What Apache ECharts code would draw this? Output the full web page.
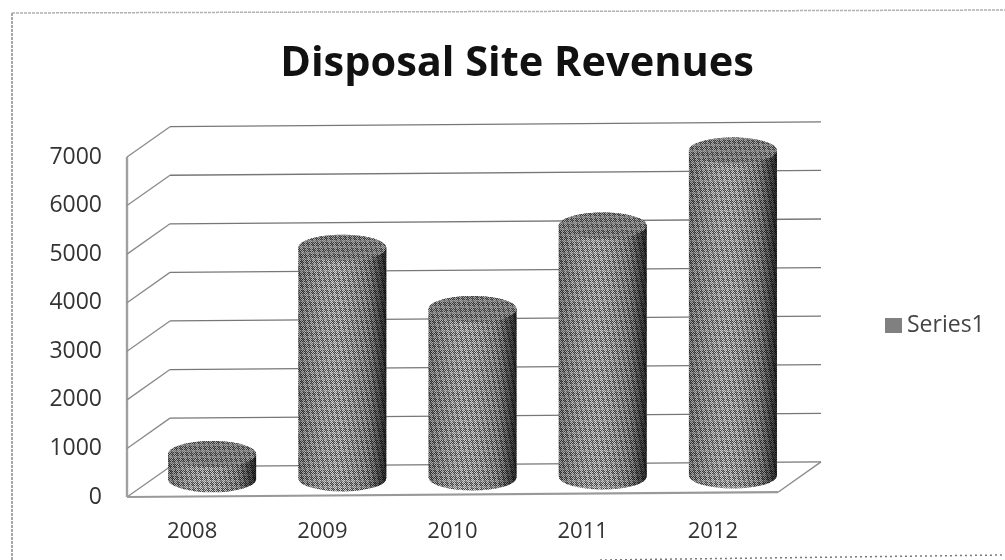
<!DOCTYPE html>
<html><head><meta charset="utf-8">
<style>html,body{margin:0;padding:0;background:#fff}#c{width:1005px;height:560px}</style>
<script src="https://cdn.jsdelivr.net/npm/echarts@6/dist/echarts.min.js"></script>
</head><body><div id="c"></div>
<script>
var categories = ['2008','2009','2010','2011','2012'];
var revenues = [520, 4750, 3470, 5165, 6690];
var gridTicks = [0,1000,2000,3000,4000,5000,6000,7000];
var FONT = '"Open Sans", sans-serif';

// dithered grain used for the cylinder surface
function makeTile(lo, hi){
  var n=24, cv=document.createElement('canvas'); cv.width=cv.height=n;
  var g=cv.getContext('2d'), im=g.createImageData(n,n);
  for(var y=0;y<n;y++)for(var x=0;x<n;x++){
    var chk=(x+y)%2===0, band=(y%6<2)?1:0, blot=((x*7+y*13)%24)<5;
    var v=chk?hi:lo; if(band&&!chk)v=lo+60; if(blot)v=(lo+hi)/2;
    var i=(y*n+x)*4; im.data[i]=im.data[i+1]=im.data[i+2]=v; im.data[i+3]=255;
  }
  g.putImageData(im,0,0); return cv;
}
var grain={image:makeTile(50,205),repeat:'repeat'};
var grainTop={image:makeTile(55,165),repeat:'repeat'};

var TILT=-0.0074, DX=43, DY=-30, MIDX=20, MIDY=-17, RX=44, RY=13;
var LINE='#8a8a8a';
function tilt(pt,x0){return [pt[0],pt[1]+(pt[0]-x0)*TILT];}
function seg(a,b,w,c){return {type:'line',shape:{x1:a[0],y1:a[1],x2:b[0],y2:b[1]},style:{stroke:c||LINE,lineWidth:w||1.4}};}

function renderWalls(params,api){
  var cs=params.coordSys, v=api.value(0), y=api.coord([0,v])[1];
  var L=cs.x, R=cs.x+cs.width, x0=cs.x, kids=[];
  var fl=tilt([L,y],x0), bl=tilt([L+DX,y+DY],x0), br=tilt([R+DX,y+DY],x0);
  kids.push(seg(fl,bl,1.3));
  kids.push(seg(bl,br,1.3,'#777'));
  if(v===0){
    var fr=tilt([R,y],x0);
    kids.push(seg(fl,fr,2.2,'#999'));
    kids.push(seg(fr,br,1.3));
    kids.push(seg([L,cs.y],[L,y],2.4,'#a0a0a0'));
  }
  return {type:'group',children:kids};
}
function renderCyl(params,api){
  var cs=params.coordSys, i=api.value(0);
  var t=api.coord([i,api.value(1)]), b=api.coord([i,0]);
  var cx=t[0]+MIDX, top=tilt([cx,t[1]+MIDY],cs.x)[1], bot=tilt([cx,b[1]+MIDY],cs.x)[1];
  var l=cx-RX, r=cx+RX;
  var d='M'+l+' '+top+'L'+l+' '+bot+'A'+RX+' '+RY+' 0 0 0 '+r+' '+bot+'L'+r+' '+top+'A'+RX+' '+RY+' 0 0 0 '+l+' '+top+'Z';
  var rect={pathData:d,layout:'cover',x:l,y:top-RY,width:2*RX,height:bot-top+2*RY};
  var shade={type:'linear',x:0,y:0,x2:1,y2:0,colorStops:[
    {offset:0,color:'rgba(0,0,0,0.25)'},{offset:0.45,color:'rgba(255,255,255,0.08)'},
    {offset:0.8,color:'rgba(0,0,0,0.18)'},{offset:0.95,color:'rgba(0,0,0,0.6)'},{offset:1,color:'rgba(0,0,0,0.8)'}]};
  return {type:'group',children:[
    {type:'path',shape:rect,style:{fill:grain}},
    {type:'path',shape:rect,style:{fill:shade}},
    {type:'ellipse',shape:{cx:cx,cy:top,rx:RX,ry:RY},style:{fill:grainTop}}
  ]};
}

var chart=echarts.init(document.getElementById('c'),null,{renderer:'canvas'});
chart.setOption({
  animation:false,
  backgroundColor:'#fff',
  title:{text:'Disposal Site Revenues',left:512,top:38,textAlign:'center',
    textStyle:{fontFamily:FONT,fontWeight:'bold',fontSize:41.5,color:'#111'}},
  legend:{data:['Series1'],left:880,top:309,itemWidth:17,itemHeight:15,itemGap:7,icon:'rect',
    itemStyle:{color:'#808080'},
    textStyle:{fontFamily:FONT,fontSize:23,color:'#444'}},
  grid:{left:127,top:157,width:651,height:340},
  xAxis:{type:'category',data:categories,axisLine:{show:false},axisTick:{show:false},
    axisLabel:{margin:24,fontFamily:FONT,fontSize:22,color:'#333'}},
  yAxis:{type:'value',min:0,max:7000,interval:1000,splitLine:{show:false},axisLine:{show:false},axisTick:{show:false},
    axisLabel:{margin:25,fontFamily:FONT,fontSize:23,color:'#333',formatter:function(v){return String(v);}}},
  graphic:[
    {type:'line',shape:{x1:12,y1:13,x2:1005,y2:10},style:{stroke:'#b0b0b0',lineWidth:1.5,lineDash:[3,1]},silent:true},
    {type:'line',shape:{x1:12,y1:13,x2:12,y2:560},style:{stroke:'#a8a8a8',lineWidth:2,lineDash:[3,1]},silent:true},
    {type:'line',shape:{x1:600,y1:560,x2:1005,y2:555},style:{stroke:'#777',lineWidth:1.5,lineDash:[2,3]},silent:true}
  ],
  series:[
    {type:'custom',name:'walls',silent:true,clip:false,z:1,coordinateSystem:'cartesian2d',
      encode:{y:0},data:gridTicks.map(function(v){return [v];}),renderItem:renderWalls},
    {type:'custom',name:'Series1',clip:false,z:2,coordinateSystem:'cartesian2d',
      itemStyle:{color:'#808080'},encode:{x:0,y:1},
      data:revenues.map(function(v,i){return [i,v];}),renderItem:renderCyl}
  ]
});
</script></body></html>
